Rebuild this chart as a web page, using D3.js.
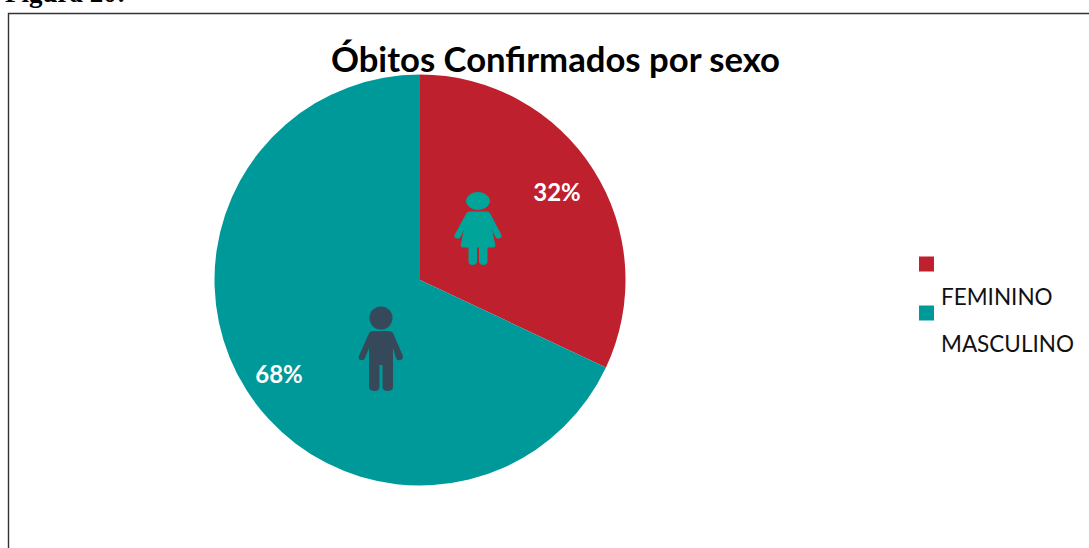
<!DOCTYPE html>
<html><head><meta charset="utf-8">
<script src="https://cdn.jsdelivr.net/npm/d3@7"></script>
<style>html,body{margin:0;padding:0;background:#fff;overflow:hidden}svg{display:block}</style>
</head><body><svg id="c" width="1089" height="548"></svg>
<script>
const categories = ["FEMININO", "MASCULINO"];
const seriesValues = [32, 68];
const sliceColors = ["#BE202E", "#009999"];
const titleText = "Óbitos Confirmados por sexo";
const captionText = "Figura 20:";

const svg = d3.select("#c");
svg.append("text").attr("x", 5).attr("y", 2)
  .attr("font-family", "Liberation Serif").attr("font-weight", 700).attr("font-size", 27)
  .attr("fill", "#000").text(captionText);
svg.append("path").attr("d", "M8.5,548V13.5H1089").attr("fill", "none").attr("stroke", "#333").attr("stroke-width", 1.4);

svg.append("text").attr("x", 555.5).attr("y", 71.5).attr("text-anchor", "middle")
  .attr("font-family", "Lato").attr("font-weight", 700).attr("font-size", 34.7)
  .attr("fill", "#000").text(titleText);

const cx = 420, cy = 280, r = 205.5;
const pie = d3.pie().sort(null).value(d => d)(seriesValues);
const arc = d3.arc().innerRadius(0).outerRadius(r);
const g = svg.append("g").attr("transform", `translate(${cx},${cy})`);
g.selectAll("path").data(pie).join("path").attr("d", arc).attr("fill", (d, i) => sliceColors[i]);

const labelPos = [[557, 200.5], [279, 382.5]];
svg.selectAll("text.pct").data(pie).join("text").attr("class", "pct")
  .attr("x", (d, i) => labelPos[i][0]).attr("y", (d, i) => labelPos[i][1])
  .attr("text-anchor", "middle").attr("font-family", "Lato").attr("font-weight", 700)
  .attr("font-size", 24).attr("fill", "#fff").text(d => d.data + "%");

// female icon
const f = svg.append("g").attr("fill", "#00A499").attr("stroke", "#00A499").attr("stroke-width", 1).attr("stroke-linejoin", "round");
f.append("ellipse").attr("cx", 478).attr("cy", 201).attr("rx", 11.5).attr("ry", 8.5);
f.append("path").attr("d", "M467,213 Q468,212 470,212 H487 Q489,212 490,214 L501,235 Q502,238 499,238 Q497,239 496,237 L491,227 L495,246 Q495,247 493,247 H463 Q461,247 461,246 L465,227 L460,237 Q459,239 457,238 Q454,238 455,235 Z");
f.append("path").attr("d", "M469,246 H476.5 V262 Q476.5,264.5 472.5,264.5 Q469,264.5 469,262 Z");
f.append("path").attr("d", "M479.5,246 H487 V262 Q487,264.5 483.5,264.5 Q479.5,264.5 479.5,262 Z");

// male icon
const m = svg.append("g").attr("fill", "#36495A");
m.append("circle").attr("cx", 381).attr("cy", 318).attr("r", 11.5);
m.append("path").attr("d", "M369,333 Q370,331 373,331 H389 Q392,331 393,333 L403,356 Q403,360 400,360 Q397,361 396,358 L393,348 V387 Q393,391 387,391 Q383,391 382.5,387 V365 H379.5 V387 Q379,391 375,391 Q369,391 369,387 V348 L365,358 Q364,361 361,360 Q358,360 359,356 Z");

// legend
const legendY = [264, 313], legendTextY = [305, 352];
svg.selectAll("rect.sw").data(categories).join("rect").attr("class", "sw")
  .attr("x", 919).attr("y", (d, i) => legendY[i] - 7.5).attr("width", 15).attr("height", 15)
  .attr("fill", (d, i) => sliceColors[i]);
svg.selectAll("text.lg").data(categories).join("text").attr("class", "lg")
  .attr("x", 941).attr("y", (d, i) => legendTextY[i])
  .attr("font-family", "Lato").attr("font-size", 22.5).attr("fill", "#111").text(d => d);
</script></body></html>
